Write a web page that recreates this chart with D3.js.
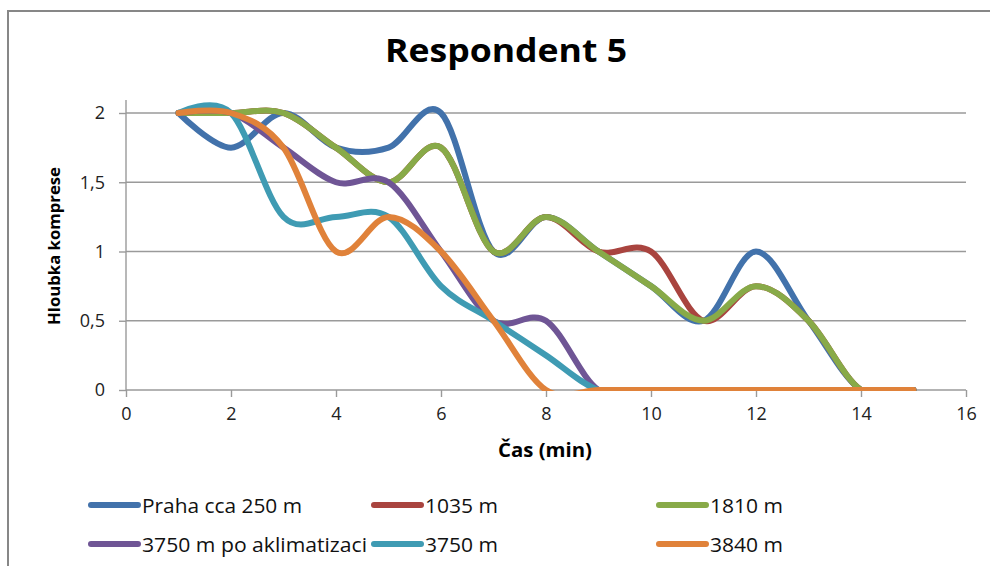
<!DOCTYPE html>
<html>
<head>
<meta charset="utf-8">
<script src="https://cdn.jsdelivr.net/npm/d3@7"></script>
<style>
  html, body { margin: 0; padding: 0; background: #fff; }
  svg { display: block; font-family: "Open Sans", "DejaVu Sans", sans-serif; }
</style>
</head>
<body>
<svg id="chart" width="990" height="566"></svg>
<script>
// Time in minutes
const minutes = [1, 2, 3, 4, 5, 6, 7, 8, 9, 10, 11, 12, 13, 14, 15];

// Compression depth per altitude
const praha250 = [2, 1.75, 2, 1.75, 1.75, 2, 1, 1.25, 1, 0.75, 0.5, 1, 0.5, 0, 0];
const alt1035 = [2, 2, 2, 1.75, 1.5, 1.75, 1, 1.25, 1, 1, 0.5, 0.75, 0.5, 0, 0];
const alt1810 = [2, 2, 2, 1.75, 1.5, 1.75, 1, 1.25, 1, 0.75, 0.5, 0.75, 0.5, 0, 0];
const alt3750acc = [2, 2, 1.75, 1.5, 1.5, 1, 0.5, 0.5, 0, 0, 0, 0, 0, 0, 0];
const alt3750 = [2, 2, 1.25, 1.25, 1.25, 0.75, 0.5, 0.25, 0, 0, 0, 0, 0, 0, 0];
const alt3840 = [2, 2, 1.75, 1, 1.25, 1, 0.5, 0, 0, 0, 0, 0, 0, 0, 0];

const seriesNames = ["Praha cca 250 m", "1035 m", "1810 m", "3750 m po aklimatizaci", "3750 m", "3840 m"];
const seriesValues = [praha250, alt1035, alt1810, alt3750acc, alt3750, alt3840];
const seriesColors = ["#4272ab", "#a9443f", "#88aa48", "#6f5595", "#3f9bb3", "#e0823a"];

const xTicks = [0, 2, 4, 6, 8, 10, 12, 14, 16];
const yTicks = [0, 0.5, 1, 1.5, 2];
const yTickLabels = ["0", "0,5", "1", "1,5", "2"];

const svg = d3.select("#chart");

// Outer frame (top and left edges)
svg.append("path")
  .attr("d", "M8,566 V11 H990")
  .attr("fill", "none")
  .attr("stroke", "#878787")
  .attr("stroke-width", 2);

const x = d3.scaleLinear().domain([0, 16]).range([126, 966]);
const y = d3.scaleLinear().domain([0, 2]).range([390, 113]);

// Horizontal gridlines
svg.append("g")
  .selectAll("line")
  .data(yTicks.slice(1))
  .join("line")
  .attr("x1", x(0)).attr("x2", x(16))
  .attr("y1", d => y(d)).attr("y2", d => y(d))
  .attr("stroke", "#9a9a9a")
  .attr("stroke-width", 1.4);

// Y axis
const yAxis = d3.axisLeft(y)
  .tickValues(yTicks)
  .tickFormat((d, i) => yTickLabels[i])
  .tickSize(7)
  .tickPadding(14);
const gy = svg.append("g").attr("transform", `translate(${x(0)},0)`).call(yAxis);
gy.select(".domain").remove();
gy.selectAll(".tick line").attr("stroke", "#9a9a9a").attr("stroke-width", 1.4);
gy.selectAll(".tick text")
  .attr("font-family", "Open Sans")
  .attr("font-size", 18)
  .attr("fill", "#222");
svg.append("line")
  .attr("x1", x(0)).attr("x2", x(0))
  .attr("y1", 100).attr("y2", y(0))
  .attr("stroke", "#9a9a9a").attr("stroke-width", 1.4);

// X axis
const xAxis = d3.axisBottom(x)
  .tickValues(xTicks)
  .tickFormat(d3.format("d"))
  .tickSize(7)
  .tickPadding(10);
const gx = svg.append("g").attr("transform", `translate(0,${y(0)})`).call(xAxis);
gx.select(".domain").attr("stroke", "#9a9a9a").attr("stroke-width", 1.4)
  .attr("d", `M${x(0)},0H${x(16)}`);
gx.selectAll(".tick line").attr("stroke", "#9a9a9a").attr("stroke-width", 1.4);
gx.selectAll(".tick text")
  .attr("font-family", "Open Sans")
  .attr("font-size", 18)
  .attr("fill", "#222");

// Clip region for the plot lines
svg.append("defs").append("clipPath").attr("id", "plotClip")
  .append("rect")
  .attr("x", x(0)).attr("y", 95)
  .attr("width", x(16) - x(0)).attr("height", 391 - 95);

const line = d3.line()
  .x((d, i) => x(minutes[i]))
  .y(d => y(d))
  .curve(d3.curveCatmullRom.alpha(0));

svg.append("g")
  .attr("clip-path", "url(#plotClip)")
  .selectAll("path")
  .data(seriesValues)
  .join("path")
  .attr("d", d => line(d))
  .attr("fill", "none")
  .attr("stroke", (d, i) => seriesColors[i])
  .attr("stroke-width", 6)
  .attr("stroke-linecap", "round")
  .attr("stroke-linejoin", "round");

// Title
svg.append("text")
  .attr("x", 506).attr("y", 62)
  .attr("text-anchor", "middle")
  .attr("font-family", "Open Sans")
  .attr("font-weight", "bold")
  .attr("font-size", 33)
  .attr("textLength", 242)
  .attr("lengthAdjust", "spacingAndGlyphs")
  .attr("fill", "#000")
  .text("Respondent 5");

// Axis titles
svg.append("text")
  .attr("x", 545).attr("y", 457)
  .attr("text-anchor", "middle")
  .attr("font-family", "Open Sans")
  .attr("font-weight", "bold")
  .attr("font-size", 19)
  .attr("textLength", 94)
  .attr("lengthAdjust", "spacingAndGlyphs")
  .attr("fill", "#000")
  .text("Čas (min)");

svg.append("text")
  .attr("transform", "translate(60,246) rotate(-90)")
  .attr("text-anchor", "middle")
  .attr("font-family", "Open Sans")
  .attr("font-weight", "bold")
  .attr("font-size", 16)
  .attr("textLength", 158)
  .attr("lengthAdjust", "spacingAndGlyphs")
  .attr("fill", "#000")
  .text("Hloubka komprese");

// Legend: three columns, two rows
const legendCols = [88, 371, 656];
const legendRows = [505, 544];
const legendTextWidths = [160, 73, 73, 225, 73, 73];
const legend = svg.append("g")
  .selectAll("g")
  .data(seriesNames)
  .join("g")
  .attr("transform", (d, i) => `translate(${legendCols[i % 3]},${legendRows[Math.floor(i / 3)]})`);

legend.append("line")
  .attr("x1", 3).attr("x2", 50)
  .attr("y1", 0).attr("y2", 0)
  .attr("stroke", (d, i) => seriesColors[i])
  .attr("stroke-width", 6)
  .attr("stroke-linecap", "round");

legend.append("text")
  .attr("x", 54).attr("y", 8)
  .attr("font-family", "Open Sans")
  .attr("font-size", 20)
  .attr("textLength", (d, i) => legendTextWidths[i])
  .attr("lengthAdjust", "spacingAndGlyphs")
  .attr("fill", "#111")
  .text(d => d);
</script>
</body>
</html>
